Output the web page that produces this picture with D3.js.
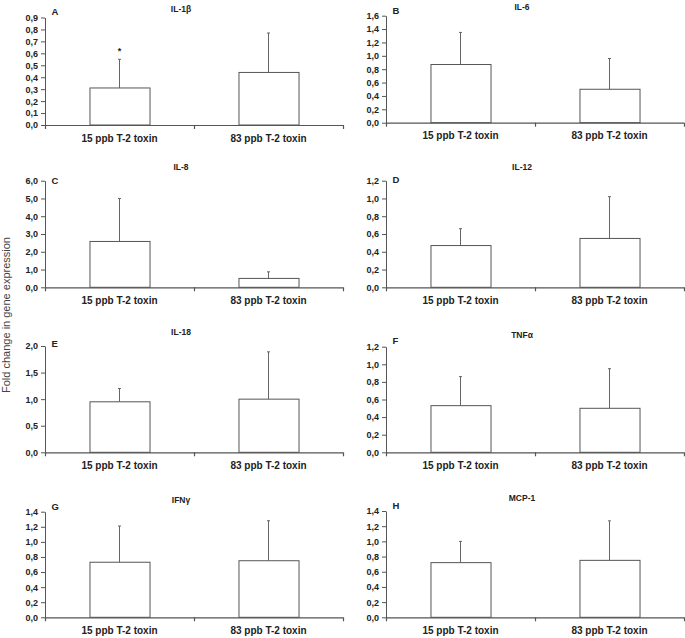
<!DOCTYPE html>
<html><head><meta charset="utf-8">
<script src="https://cdn.jsdelivr.net/npm/d3@7"></script>
<style>body{margin:0;background:#fff}svg{display:block}</style>
</head><body>
<svg id="chart" width="685" height="638"></svg>
<script>
const categories = ["15 ppb T-2 toxin", "83 ppb T-2 toxin"];
const panelLetters = ["A", "B", "C", "D", "E", "F", "G", "H"];
const panelTitles = ["IL-1β", "IL-6", "IL-8", "IL-12", "IL-18", "TNFα", "IFNγ", "MCP-1"];
const meanValues = [[0.31, 0.44], [0.87, 0.50], [2.58, 0.50], [0.47, 0.55], [0.95, 1.00], [0.53, 0.50], [0.73, 0.75], [0.72, 0.75]];
const errorTops = [[0.55, 0.77], [1.35, 0.96], [5.00, 0.87], [0.66, 1.02], [1.20, 1.89], [0.86, 0.95], [1.21, 1.28], [1.00, 1.27]];
const yMaxValues = [0.9, 1.6, 6.0, 1.2, 2.0, 1.2, 1.4, 1.4];
const yStepValues = [0.1, 0.2, 1.0, 0.2, 0.5, 0.2, 0.2, 0.2];
const significance = [["*", ""], ["", ""], ["", ""], ["", ""], ["", ""], ["", ""], ["", ""], ["", ""]];
const yAxisTitle = "Fold change in gene expression";

// layout
const colX = [[45, 343], [386, 684]];
const panelTop = [17.5, 15.7, 180.7, 180.7, 346, 346.7, 511.7, 511];
const panelBottom = [125, 122.7, 287.3, 287.3, 452.3, 452.3, 617.3, 617.3];
const titleY = [9.3, 6.7, 166.7, 166.7, 331.7, 335, 500, 498.3];
const letterY = [11.7, 10, 180.7, 179.3, 343.3, 340, 506.7, 505];

const svg = d3.select("#chart");
const axisColor = "#555";
const font = "'Liberation Sans', Arial, sans-serif";
const fmt = v => d3.format(".1f")(v).replace(".", ",");

panelLetters.forEach((letter, i) => {
  const [x0, x1] = colX[i % 2];
  const top = panelTop[i], bottom = panelBottom[i];
  const g = svg.append("g");
  const x = d3.scaleBand().domain(categories).range([x0, x1]).paddingInner(0.597).paddingOuter(0.2985);
  const y = d3.scaleLinear().domain([0, yMaxValues[i]]).range([bottom, top]);
  const nT = Math.round(yMaxValues[i] / yStepValues[i]);
  const ticks = d3.range(nT + 1).map(k => +(k * yStepValues[i]).toFixed(4));

  // y axis
  const ya = g.append("g").attr("transform", `translate(${x0},0)`)
    .call(d3.axisLeft(y).tickValues(ticks).tickFormat(fmt).tickSize(4).tickPadding(3).tickSizeOuter(0));
  ya.select(".domain").attr("stroke", axisColor);
  ya.selectAll(".tick line").attr("stroke", axisColor);
  ya.selectAll(".tick text").attr("font-family", font).attr("font-size", 9).attr("font-weight", "bold").attr("fill", "#222");

  // bars
  const rows = categories.map((c, j) => ({c, v: meanValues[i][j], e: errorTops[i][j], s: significance[i][j]}));
  // error bars
  g.selectAll(".err").data(rows).join("line")
    .attr("x1", d => x(d.c) + x.bandwidth() / 2).attr("x2", d => x(d.c) + x.bandwidth() / 2)
    .attr("y1", d => y(d.v)).attr("y2", d => y(d.e))
    .attr("stroke", "#666").attr("stroke-width", 1);
  g.selectAll(".cap").data(rows).join("line")
    .attr("x1", d => x(d.c) + x.bandwidth() / 2 - 1.5).attr("x2", d => x(d.c) + x.bandwidth() / 2 + 1.5)
    .attr("y1", d => y(d.e)).attr("y2", d => y(d.e))
    .attr("stroke", "#666").attr("stroke-width", 1);
  g.selectAll(".bar").data(rows).join("rect")
    .attr("x", d => x(d.c) + 0.5).attr("width", x.bandwidth())
    .attr("y", d => y(d.v)).attr("height", d => y(0) - y(d.v))
    .attr("fill", "#fff").attr("stroke", axisColor).attr("stroke-width", 1);
  g.selectAll(".sig").data(rows.filter(d => d.s)).join("text")
    .attr("x", d => x(d.c) + x.bandwidth() / 2).attr("y", d => y(d.e) - 5)
    .attr("text-anchor", "middle").attr("font-family", font).attr("font-size", 9).attr("font-weight", "bold")
    .attr("fill", "#222").text(d => d.s);

  // x axis
  const boundaries = [x0, x0 + x.step(), x1];
  g.append("line").attr("x1", x0).attr("x2", x1).attr("y1", bottom + 0.5).attr("y2", bottom + 0.5)
    .attr("stroke", axisColor).attr("stroke-width", 1.2);
  g.selectAll(".xt").data(boundaries).join("line")
    .attr("x1", d => d + 0.5).attr("x2", d => d + 0.5).attr("y1", bottom).attr("y2", bottom + 4)
    .attr("stroke", axisColor).attr("stroke-width", 1.2);
  g.selectAll(".xl").data(categories).join("text")
    .attr("x", d => x0 + x.step() * (categories.indexOf(d) + 0.5)).attr("y", bottom + 16.5)
    .attr("text-anchor", "middle").attr("font-family", font).attr("font-size", 10).attr("font-weight", "bold")
    .attr("fill", "#222").text(d => d);

  // title and letter
  g.append("text").attr("x", (x0 + x1) / 2 - 13).attr("y", titleY[i] + 3)
    .attr("text-anchor", "middle").attr("font-family", font).attr("font-size", 8.5).attr("font-weight", "bold")
    .attr("fill", "#222").text(panelTitles[i]);
  g.append("text").attr("x", x0 + 6.5).attr("y", letterY[i] + 3.5)
    .attr("font-family", font).attr("font-size", 9.5).attr("font-weight", "bold")
    .attr("fill", "#222").text(letter);
});

svg.append("text").attr("transform", "translate(10,315) rotate(-90)")
  .attr("text-anchor", "middle").attr("font-family", font).attr("font-size", 11)
  .attr("fill", "#444").text(yAxisTitle);
</script>
</body></html>
